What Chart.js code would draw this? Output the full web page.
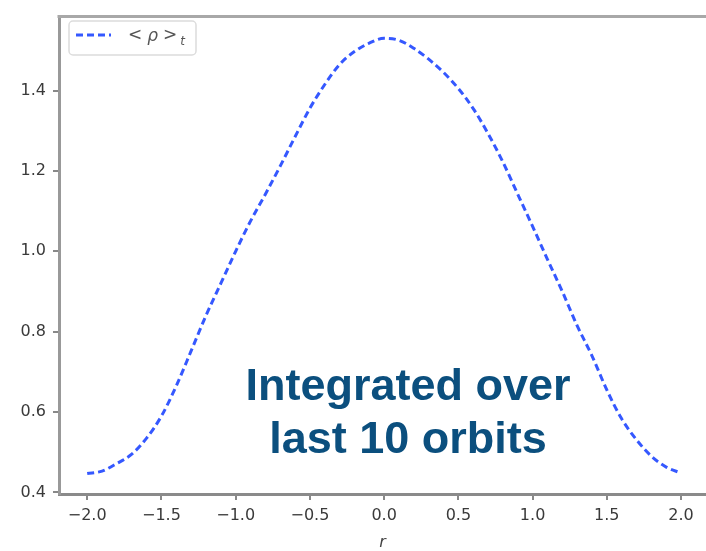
<!DOCTYPE html>
<html><head><meta charset="utf-8">
<script src="https://cdn.jsdelivr.net/npm/chart.js@4/dist/chart.umd.min.js"></script>
<style>html,body{margin:0;padding:0;background:#fff;overflow:hidden}</style>
</head><body>
<canvas id="c" width="706" height="551"></canvas>
<script>
const rValues = [-2.0,-1.9,-1.8,-1.7,-1.6,-1.5,-1.4,-1.3,-1.2,-1.1,-1.0,-0.9,-0.8,-0.7,-0.6,-0.5,-0.4,-0.3,-0.2,-0.1,0.0,0.1,0.2,0.3,0.4,0.5,0.6,0.7,0.8,0.9,1.0,1.1,1.2,1.3,1.4,1.5,1.6,1.7,1.8,1.9,2.0];
const rhoValues = [0.447,0.453,0.472,0.495,0.535,0.590,0.665,0.752,0.840,0.920,1.000,1.075,1.142,1.212,1.285,1.356,1.415,1.465,1.497,1.518,1.530,1.525,1.505,1.478,1.445,1.405,1.355,1.293,1.222,1.142,1.062,0.980,0.900,0.815,0.740,0.655,0.583,0.531,0.490,0.463,0.448];
const xTickValues = [-2.0,-1.5,-1.0,-0.5,0.0,0.5,1.0,1.5,2.0];
const yTickValues = [0.4,0.6,0.8,1.0,1.2,1.4];
const seriesLabel = '<ρ>t';
const xAxisTitle = 'r';
const noteLines = ['Integrated over', 'last 10 orbits'];

const lineColor = '#3558ff';
const fmt = v => v.toFixed(1).replace('-', '\u2212');

const decorPlugin = {
  id: 'decor',
  afterDatasetsDraw(chart) {
    const ctx = chart.ctx, a = chart.chartArea;
    ctx.save();
    // top spine
    ctx.strokeStyle = '#a8a8a8';
    ctx.lineWidth = 3;
    ctx.beginPath(); ctx.moveTo(a.left - 1.5, a.top); ctx.lineTo(a.right, a.top); ctx.stroke();
    // annotation text
    ctx.fillStyle = '#0b4f7e';
    ctx.font = 'bold 45px "Liberation Sans", Arial, sans-serif';
    ctx.textAlign = 'center';
    ctx.textBaseline = 'alphabetic';
    ctx.fillText(noteLines[0], 408, 400);
    ctx.fillText(noteLines[1], 408, 453);
    // legend box
    const bx = 69, by = 21, bw = 127, bh = 34, r = 4;
    ctx.fillStyle = 'rgba(255,255,255,0.9)';
    ctx.strokeStyle = '#dcdcdc';
    ctx.lineWidth = 1.5;
    ctx.beginPath();
    ctx.roundRect(bx, by, bw, bh, r);
    ctx.fill(); ctx.stroke();
    // legend line sample
    ctx.strokeStyle = lineColor;
    ctx.lineWidth = 3;
    ctx.setLineDash([7, 4]);
    ctx.beginPath(); ctx.moveTo(76, 35); ctx.lineTo(111, 35); ctx.stroke();
    ctx.setLineDash([]);
    // legend label  < ρ >_t
    ctx.fillStyle = '#555';
    ctx.textAlign = 'left';
    ctx.textBaseline = 'middle';
    ctx.font = '17px "DejaVu Sans"';
    const lt = seriesLabel.charAt(0), rho = seriesLabel.charAt(1), gt = seriesLabel.charAt(2), sub = seriesLabel.charAt(3);
    let x = 128;
    ctx.fillText(lt, x, 36); x += ctx.measureText(lt).width + 5;
    ctx.font = 'italic 17px "DejaVu Sans"';
    ctx.fillText(rho, x, 37); x += ctx.measureText(rho).width + 5;
    ctx.font = '17px "DejaVu Sans"';
    ctx.fillText(gt, x, 36); x += ctx.measureText(gt).width + 3;
    ctx.font = 'italic 12px "DejaVu Sans"';
    ctx.fillText(sub, x, 42);
    ctx.restore();
  }
};

new Chart(document.getElementById('c'), {
  type: 'line',
  data: {
    datasets: [{
      label: seriesLabel,
      data: rValues.map((r, i) => ({x: r, y: rhoValues[i]})),
      borderColor: lineColor,
      borderWidth: 3,
      borderDash: [7, 4],
      pointRadius: 0,
      fill: false,
      tension: 0.4,
      cubicInterpolationMode: 'monotone'
    }]
  },
  options: {
    responsive: false,
    animation: false,
    layout: { padding: { top: 12, right: 0, left: 0, bottom: 0 } },
    plugins: { legend: { display: false }, tooltip: { enabled: false } },
    scales: {
      x: {
        type: 'linear',
        min: -2.19, max: 2.168,
        afterBuildTicks: s => { s.ticks = xTickValues.map(v => ({value: v})); },
        afterFit: s => { s.height = 57; },
        grid: { display: true, drawOnChartArea: false, drawTicks: true, tickLength: 6, color: '#888', lineWidth: 2 },
        border: { display: true, color: '#8a8a8a', width: 3 },
        ticks: { callback: v => fmt(v), color: '#3a3a3a', font: { family: '"DejaVu Sans"', size: 16 }, padding: 6, maxRotation: 0, autoSkip: false },
        title: { display: true, text: xAxisTitle, color: '#444', font: { family: '"DejaVu Sans"', size: 16, style: 'italic' }, padding: { top: 0, bottom: -1 } }
      },
      y: {
        min: 0.396, max: 1.584,
        afterBuildTicks: s => { s.ticks = yTickValues.map(v => ({value: v})); },
        afterFit: s => { s.width = 59; },
        grid: { display: true, drawOnChartArea: false, drawTicks: true, tickLength: 6, color: '#888', lineWidth: 2 },
        border: { display: true, color: '#999', width: 3 },
        ticks: { callback: v => fmt(v), color: '#3a3a3a', font: { family: '"DejaVu Sans"', size: 16 }, padding: 7, autoSkip: false }
      }
    }
  },
  plugins: [decorPlugin]
});
</script>
</body></html>
